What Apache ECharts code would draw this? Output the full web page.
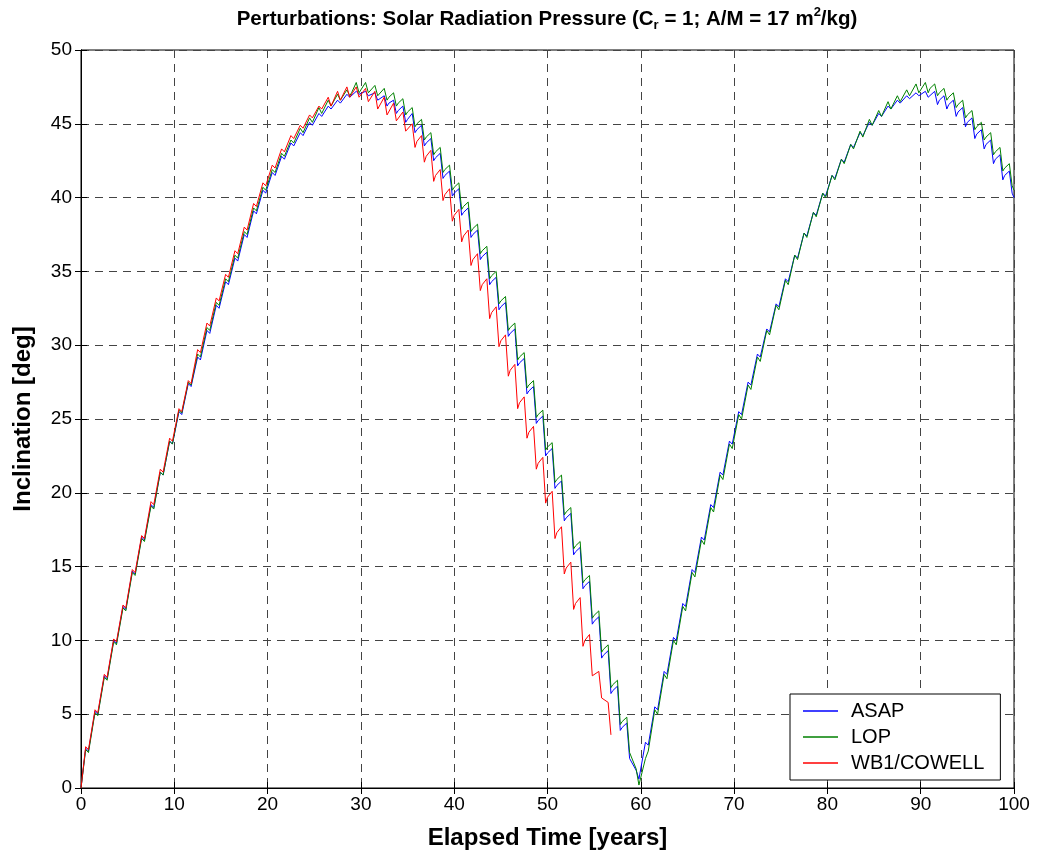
<!DOCTYPE html>
<html>
<head>
<meta charset="utf-8">
<script src="https://cdn.jsdelivr.net/npm/echarts@6/dist/echarts.min.js"></script>
<style>html,body{margin:0;padding:0;background:#fff;}#main{width:1037px;height:857px;}</style>
</head>
<body>
<div id="main"></div>
<script>
// Elapsed time [years] sample points (three per year)
const years = [
 0,0.5,0.8, 1,1.5,1.8, 2,2.5,2.8, 3,3.5,3.8, 4,4.5,4.8, 5,5.5,5.8, 6,6.5,6.8, 7,7.5,7.8, 8,8.5,8.8, 9,9.5,9.8,
 10,10.5,10.8, 11,11.5,11.8, 12,12.5,12.8, 13,13.5,13.8, 14,14.5,14.8, 15,15.5,15.8, 16,16.5,16.8, 17,17.5,17.8, 18,18.5,18.8, 19,19.5,19.8,
 20,20.5,20.8, 21,21.5,21.8, 22,22.5,22.8, 23,23.5,23.8, 24,24.5,24.8, 25,25.5,25.8, 26,26.5,26.8, 27,27.5,27.8, 28,28.5,28.8, 29,29.5,29.8,
 30,30.5,30.8, 31,31.5,31.8, 32,32.5,32.8, 33,33.5,33.8, 34,34.5,34.8, 35,35.5,35.8, 36,36.5,36.8, 37,37.5,37.8, 38,38.5,38.8, 39,39.5,39.8,
 40,40.5,40.8, 41,41.5,41.8, 42,42.5,42.8, 43,43.5,43.8, 44,44.5,44.8, 45,45.5,45.8, 46,46.5,46.8, 47,47.5,47.8, 48,48.5,48.8, 49,49.5,49.8,
 50,50.5,50.8, 51,51.5,51.8, 52,52.5,52.8, 53,53.5,53.8, 54,54.5,54.8, 55,55.5,55.8, 56,56.5,56.8, 57,57.5,57.8, 58,58.5,58.8, 59,59.5,59.8,
 60,60.5,60.8, 61,61.5,61.8, 62,62.5,62.8, 63,63.5,63.8, 64,64.5,64.8, 65,65.5,65.8, 66,66.5,66.8, 67,67.5,67.8, 68,68.5,68.8, 69,69.5,69.8,
 70,70.5,70.8, 71,71.5,71.8, 72,72.5,72.8, 73,73.5,73.8, 74,74.5,74.8, 75,75.5,75.8, 76,76.5,76.8, 77,77.5,77.8, 78,78.5,78.8, 79,79.5,79.8,
 80,80.5,80.8, 81,81.5,81.8, 82,82.5,82.8, 83,83.5,83.8, 84,84.5,84.8, 85,85.5,85.8, 86,86.5,86.8, 87,87.5,87.8, 88,88.5,88.8, 89,89.5,89.8,
 90,90.5,90.8, 91,91.5,91.8, 92,92.5,92.8, 93,93.5,93.8, 94,94.5,94.8, 95,95.5,95.8, 96,96.5,96.8, 97,97.5,97.8, 98,98.5,98.8, 99,99.5,99.8,
 100
];

// ASAP inclination [deg]
const asap = [
 0,2.7,2.5, 2.5,5.2,5.0, 5.0,7.6,7.4, 7.4,10.0,9.8, 9.8,12.3,12.1,
 12.1,14.7,14.5, 14.5,17.0,16.8, 16.8,19.2,19.0, 19.0,21.4,21.2, 21.2,23.5,23.3,
 23.3,25.5,25.3, 25.3,27.4,27.2, 27.2,29.2,29.0, 29.0,31.0,30.8, 30.8,32.7,32.5,
 32.5,34.3,34.1, 34.1,35.9,35.7, 35.7,37.5,37.3, 37.3,39.1,38.9, 38.9,40.5,40.3,
 40.3,41.7,41.5, 41.5,42.8,42.6, 42.6,43.7,43.5, 43.5,44.4,44.2, 44.2,45.1,44.9,
 44.9,45.7,45.5, 45.5,46.2,46.0, 46.0,46.6,46.4, 46.4,47.0,46.8, 46.8,47.2,47.0,
 47.0,47.2,46.9, 46.9,47.1,46.6, 46.7,46.9,46.2, 46.4,46.6,45.7, 45.9,46.2,45.1,
 45.3,45.7,44.4, 44.6,44.9,43.5, 43.7,44.0,42.5, 42.7,43.0,41.3, 41.5,41.8,40.1,
 40.3,40.6,38.8, 39.0,39.3,37.3, 37.5,37.8,35.8, 36.0,36.3,34.1, 34.3,34.6,32.4,
 32.6,32.9,30.6, 30.8,31.1,28.6, 28.8,29.1,26.7, 26.9,27.2,24.7, 24.9,25.2,22.5,
 22.7,23.0,20.3, 20.5,20.8,18.1, 18.3,18.6,15.8, 16.0,16.3,13.5, 13.7,14.0,11.1,
 11.3,11.6,8.8, 9.0,9.3,6.4, 6.6,6.9,3.9, 4.1,4.4,2.0, 2.0,1.2,0.6,
 0.6,3.1,2.9, 2.9,5.5,5.3, 5.3,7.9,7.7, 7.7,10.2,10.0, 10.0,12.5,12.3,
 12.3,14.8,14.6, 14.6,17.0,16.8, 16.8,19.2,19.0, 19.0,21.4,21.2, 21.2,23.5,23.3,
 23.3,25.5,25.3, 25.3,27.5,27.3, 27.3,29.4,29.2, 29.2,31.1,30.9, 30.9,32.8,32.6,
 32.6,34.5,34.3, 34.3,36.1,35.9, 35.9,37.6,37.4, 37.4,39.0,38.8, 38.8,40.3,40.1,
 40.1,41.5,41.3, 41.3,42.6,42.4, 42.4,43.6,43.4, 43.4,44.4,44.2, 44.2,45.1,44.9,
 44.9,45.7,45.5, 45.5,46.2,46.0, 46.0,46.6,46.4, 46.4,46.9,46.7, 46.7,47.1,46.9,
 46.9,47.2,46.8, 46.9,47.2,46.3, 46.6,46.9,46.0, 46.3,46.6,45.5, 45.8,46.1,44.8,
 45.1,45.4,44.0, 44.3,44.6,43.3, 43.6,43.9,42.3, 42.6,42.9,41.2, 41.5,41.8,40.3,
 40.0
];

// LOP inclination [deg]
const lop = [
 0,2.6,2.4, 2.4,5.1,4.9, 4.9,7.5,7.3, 7.3,9.9,9.7, 9.7,12.2,12.0,
 12.0,14.6,14.4, 14.4,16.9,16.7, 16.7,19.1,18.9, 18.9,21.4,21.2, 21.2,23.5,23.3,
 23.3,25.6,25.4, 25.4,27.5,27.3, 27.3,29.4,29.2, 29.2,31.2,31.0, 31.0,32.9,32.7,
 32.7,34.5,34.3, 34.3,36.1,35.9, 35.9,37.7,37.5, 37.5,39.3,39.1, 39.1,40.7,40.5,
 40.5,41.9,41.7, 41.7,43.0,42.8, 42.8,43.9,43.7, 43.7,44.7,44.4, 44.4,45.4,45.1,
 45.1,46.1,45.7, 45.7,46.6,46.2, 46.2,47.0,46.6, 46.6,47.3,46.9, 47.1,47.8,47.1,
 47.2,47.8,47.1, 47.2,47.6,46.9, 47.0,47.4,46.6, 46.8,47.1,46.2, 46.4,46.7,45.6,
 45.8,46.1,44.8, 45.0,45.3,43.9, 44.1,44.4,42.9, 43.1,43.4,41.7, 41.9,42.2,40.5,
 40.7,41.0,39.2, 39.4,39.7,37.7, 37.9,38.2,36.2, 36.4,36.7,34.5, 34.7,35.0,32.8,
 33.0,33.3,31.0, 31.2,31.5,29.0, 29.2,29.5,27.1, 27.3,27.6,25.1, 25.3,25.6,22.9,
 23.1,23.4,20.7, 20.9,21.2,18.5, 18.7,19.0,16.2, 16.4,16.7,13.9, 14.1,14.4,11.5,
 11.7,12.0,9.2, 9.4,9.7,6.8, 7.0,7.3,4.3, 4.5,4.8,2.4, 2.4,1.3,0.2,
 0.1,2.0,2.5, 2.5,5.3,5.0, 5.0,7.7,7.4, 7.4,10.0,9.7, 9.7,12.3,12.0,
 12.0,14.6,14.3, 14.3,16.8,16.5, 16.5,19.0,18.7, 18.7,21.2,20.9, 20.9,23.3,23.0,
 23.0,25.3,25.0, 25.0,27.3,27.0, 27.0,29.2,28.9, 28.9,31.0,30.7, 30.7,32.7,32.4,
 32.4,34.4,34.1, 34.1,36.1,35.8, 35.8,37.6,37.3, 37.3,39.0,38.7, 38.7,40.3,40.0,
 40.0,41.5,41.2, 41.2,42.6,42.3, 42.3,43.6,43.3, 43.3,44.5,44.1, 44.1,45.3,44.9,
 44.9,45.9,45.5, 45.5,46.5,46.0, 46.0,46.9,46.5, 46.5,47.3,46.9, 46.9,47.7,47.1,
 47.2,47.8,47.1, 47.4,47.7,46.9, 47.1,47.4,46.6, 46.8,47.1,46.1, 46.3,46.6,45.4,
 45.6,45.9,44.6, 44.8,45.1,43.9, 44.1,44.4,42.9, 43.1,43.4,41.8, 42.0,42.3,40.8,
 40.5
];

// WB1/COWELL inclination [deg] (run ends near 56.8 years)
const wb1 = [
 0,2.8,2.6, 2.6,5.3,5.1, 5.1,7.7,7.5, 7.5,10.1,9.9, 9.9,12.4,12.2,
 12.2,14.8,14.6, 14.6,17.1,16.9, 16.9,19.4,19.2, 19.2,21.6,21.4, 21.4,23.7,23.5,
 23.5,25.7,25.5, 25.5,27.6,27.4, 27.4,29.7,29.5, 29.5,31.5,31.3, 31.3,33.2,33.0,
 33.0,34.8,34.6, 34.6,36.4,36.2, 36.2,38.0,37.8, 37.8,39.6,39.4, 39.4,41.0,40.8,
 40.8,42.2,42.0, 42.0,43.3,43.1, 43.1,44.2,44.0, 44.0,44.9,44.7, 44.7,45.6,45.4,
 45.4,46.2,46.0, 46.0,46.8,46.2, 46.2,47.2,46.6, 46.6,47.5,46.8, 46.8,47.5,46.8,
 46.8,47.4,46.5, 46.5,47.2,46.0, 46.0,46.8,45.6, 45.6,46.4,45.2, 45.2,45.8,44.5,
 44.5,45.0,43.4, 43.8,44.2,42.4, 42.8,43.2,41.1, 41.5,41.9,39.8, 40.2,40.6,38.4,
 38.8,39.2,37.0, 37.4,37.8,35.4, 35.8,36.2,33.7, 34.1,34.5,31.8, 32.2,32.6,29.9,
 30.3,30.7,27.9, 28.3,28.7,25.7, 26.1,26.5,23.7, 24.1,24.5,21.6, 22.0,22.4,19.3,
 19.7,20.1,16.9, 17.3,17.7,14.5, 14.9,15.3,12.1, 12.5,12.9,9.6, 10.0,10.4,7.6,
 7.6,7.9,6.1, 6.0,5.8,3.6
];

const seriesNames = ['ASAP', 'LOP', 'WB1/COWELL'];
const seriesColors = ['#0000ff', '#008000', '#ff0000'];
const seriesValues = [asap, lop, wb1];
const xTicks = {min: 0, max: 100, step: 10};
const yTicks = {min: 0, max: 50, step: 5};

const FONT = 'Liberation Sans, Arial, Helvetica, sans-serif';

const chart = echarts.init(document.getElementById('main'), null, {renderer: 'canvas'});

function axisCommon(extra) {
  return Object.assign({
    type: 'value',
    axisLine: {show: true, lineStyle: {color: '#000', width: 1}},
    axisTick: {show: true, inside: true, length: 6, lineStyle: {color: '#000'}},
    splitLine: {show: false},
    axisLabel: {show: false}
  }, extra);
}

const option = {
  animation: false,
  backgroundColor: '#ffffff',
  grid: {left: 81, right: 23, top: 50, bottom: 69, show: true, borderColor: '#000', borderWidth: 1, backgroundColor: '#fff'},
  xAxis: [
    axisCommon({
      min: xTicks.min, max: xTicks.max, interval: xTicks.step, position: 'bottom',
      axisLabel: {show: true, color: '#000', fontSize: 19, fontFamily: FONT, margin: 7},
      splitLine: {show: true, lineStyle: {color: '#444', width: 1, type: [8, 6]}},
      name: 'Elapsed Time [years]', nameLocation: 'middle', nameGap: 38,
      nameTextStyle: {fontSize: 24, fontWeight: 'bold', color: '#000', fontFamily: FONT}
    }),
    axisCommon({min: xTicks.min, max: xTicks.max, interval: xTicks.step, position: 'top'})
  ],
  yAxis: [
    axisCommon({
      min: yTicks.min, max: yTicks.max, interval: yTicks.step, position: 'left',
      axisLabel: {show: true, color: '#000', fontSize: 19, fontFamily: FONT, margin: 9},
      splitLine: {show: true, lineStyle: {color: '#444', width: 1, type: [8, 6]}},
      name: 'Inclination [deg]', nameLocation: 'middle', nameGap: 46, nameRotate: 90,
      nameTextStyle: {fontSize: 24, fontWeight: 'bold', color: '#000', fontFamily: FONT}
    }),
    axisCommon({min: yTicks.min, max: yTicks.max, interval: yTicks.step, position: 'right'})
  ],
  legend: {
    orient: 'vertical', left: 790, top: 694,
    icon: 'rect', itemWidth: 35, itemHeight: 1.5, itemGap: 6,
    padding: [7, 16, 7, 13],
    backgroundColor: '#fff', borderColor: '#000', borderWidth: 1,
    textStyle: {fontSize: 20, color: '#000', fontFamily: FONT, padding: [0, 0, 0, 8], lineHeight: 20},
    data: seriesNames,
    selectedMode: false, z: 10
  },
  graphic: [{
    type: 'text', x: 547, y: 19, z: 10,
    style: {
      text: '{t|Perturbations: Solar Radiation Pressure (C}{sub|r}{t| = 1; A/M = 17 m}{sup|2}{t|/kg)}',
      textAlign: 'center', textVerticalAlign: 'middle', fill: '#000',
      rich: {
        t: {fontSize: 20.5, fontWeight: 'bold', fontFamily: FONT, lineHeight: 26, verticalAlign: 'middle', fill: '#000'},
        sub: {fontSize: 13, fontWeight: 'bold', fontFamily: FONT, lineHeight: 12, verticalAlign: 'bottom', fill: '#000'},
        sup: {fontSize: 13, fontWeight: 'bold', fontFamily: FONT, lineHeight: 12, verticalAlign: 'top', fill: '#000'}
      }
    }
  }],
  series: seriesNames.map((name, s) => ({
    name: name, type: 'line', xAxisIndex: 0, yAxisIndex: 0,
    data: seriesValues[s].map((v, i) => [years[i], v]),
    showSymbol: false, symbol: 'none', silent: true,
    lineStyle: {color: seriesColors[s], width: 1},
    itemStyle: {color: seriesColors[s]},
    emphasis: {disabled: true},
    z: 3 + s
  }))
};

chart.setOption(option);
</script>
</body>
</html>
